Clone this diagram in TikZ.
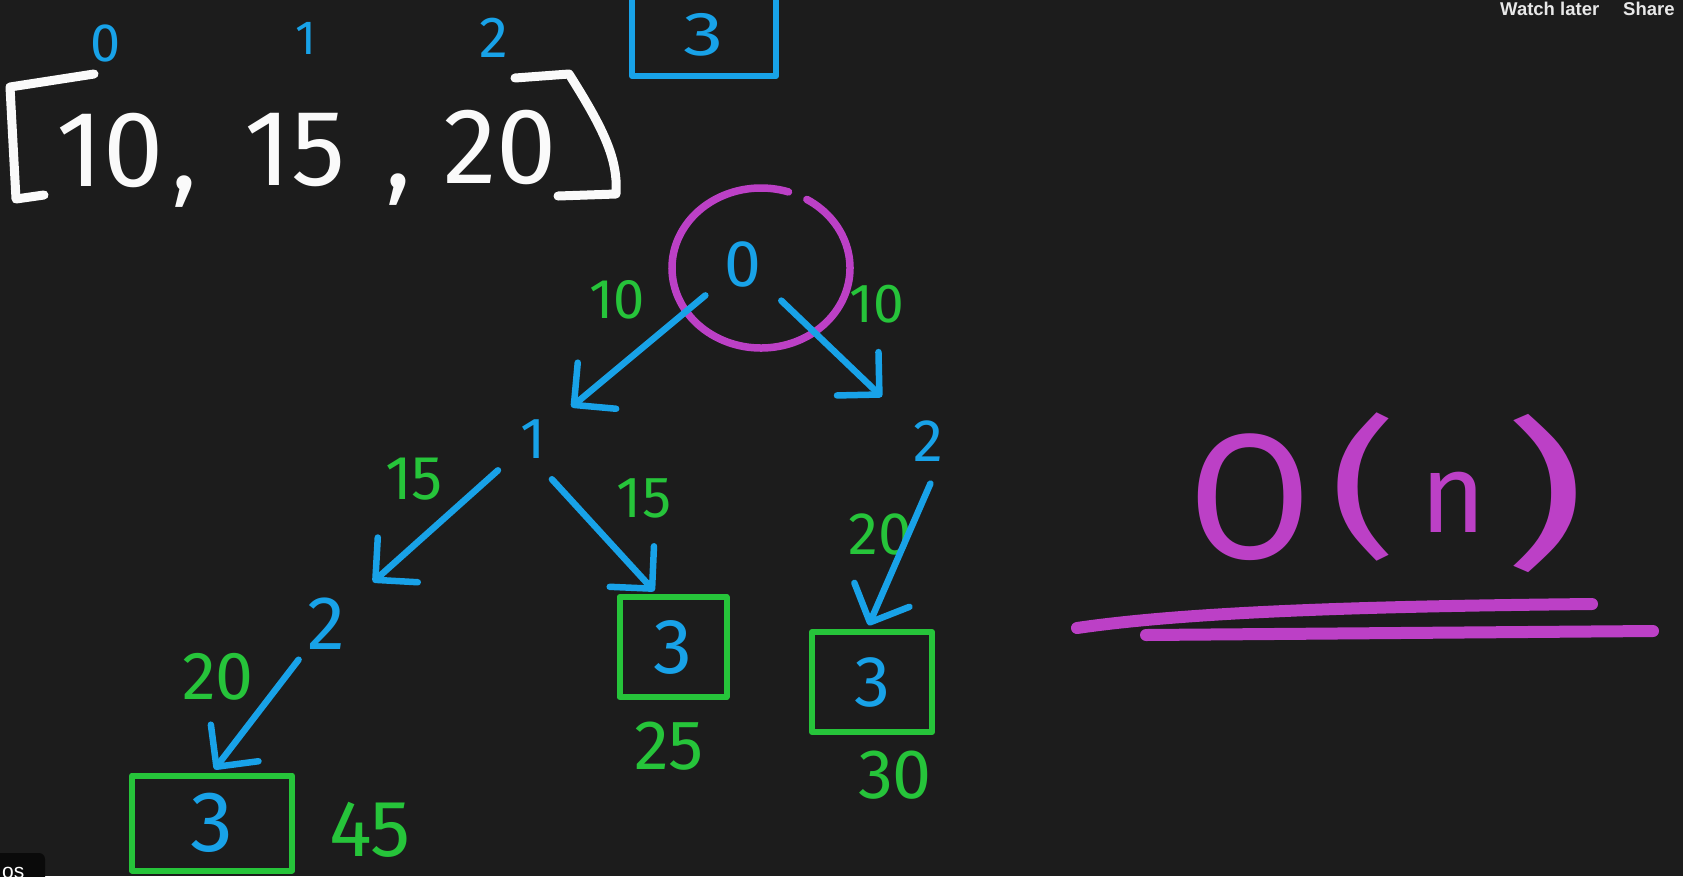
\documentclass[tikz,border=0pt]{standalone}
\usepackage{fontspec}
\setmainfont{Fira Sans}
\newfontfamily\uifont{Liberation Sans}
\usetikzlibrary{arrows.meta}
\definecolor{bgc}{RGB}{28,28,28}
\definecolor{uiblack}{RGB}{10,10,10}
\definecolor{uigray}{RGB}{232,232,232}
\definecolor{hblue}{RGB}{24,162,232}
\definecolor{hgreen}{RGB}{38,196,58}
\definecolor{hmag}{RGB}{188,64,198}
\definecolor{hwhite}{RGB}{250,250,250}
\newcommand{\fsz}[1]{\fontsize{#1}{#1}\selectfont}
\begin{document}
\begin{tikzpicture}[x=1pt,y=-1pt,
  txt/.style={inner sep=0pt, font=\fsz{#1}},
  bl/.style={txt=#1, text=hblue},
  gr/.style={txt=#1, text=hgreen},
  wh/.style={txt=#1, text=hwhite},
  mg/.style={txt=#1, text=hmag},
  hbox/.style={draw=hgreen, line width=6pt, line join=round, rectangle, inner sep=0pt, text=hblue},
  hstroke/.style={line width=#1, line cap=round, line join=round},
  arr/.style={draw=hblue, line width=6.5pt, line cap=round, -{Straight Barb[length=30pt,width=60pt,round]}},
]
\useasboundingbox (0,0) rectangle (1683,876);
\fill[bgc] (0,0) rectangle (1683,876);

% header / overlay texts
\node[anchor=base west, inner sep=0pt, font=\uifont\bfseries\fsz{18.5}, text=uigray] (wl) at (1500,15) {Watch later};
\node[anchor=base west, inner sep=0pt, font=\uifont\bfseries\fsz{18.5}, text=uigray] (sh) at (1623,15) {Share};
\fill[uiblack] (-10,853) [rounded corners=6pt] -- (45,853) -- (45,890) [sharp corners] -- (-10,890) -- cycle;
\node[anchor=north west, inner sep=0pt, font=\uifont\fsz{21}, text=white] (os) at (2,867) {os};

% array
\draw[hwhite, hstroke=9pt] (94,74) -- (10,87) -- (16,199) -- (44,195);
\draw[hwhite, hstroke=9pt] (515,78) -- (569,74) .. controls (598,120) and (614,150) .. (616,180) -- (616,194) -- (558,196);
\node[wh=108] (a10) at (110,150) {10};
\node[wh=108] (c1) at (184,192) {,};
\node[wh=108] (a15) at (295,150) {15};
\node[wh=108] (c2) at (398,190) {,};
\node[wh=108] (a20) at (500,147) {20};

% indices
\node[bl=54] (i0) at (106,43) {0};
\node[bl=48] (i1) at (306,38) {1};
\node[bl=58] (i2) at (494,38) {2};
\node[hbox, draw=hblue, font=\fsz{62}, minimum width=144pt, minimum height=82pt] (tb) at (704,35) {\scalebox{1.3}[1]{3}};

% tree
\draw[hmag, hstroke=7.5pt] (761,268) ++(-59:89 and 80) arc[start angle=-59, end angle=288, x radius=89, y radius=80];
\node[bl=66] (n0) at (743,264) {0};
\node[bl=58] (n1) at (533,439) {1};
\node[bl=60] (n2) at (928,441) {2};
\node[bl=76] (n2b) at (326,624) {2};

\node[hbox, font=\fsz{78}, minimum width=107pt, minimum height=100pt] (b25) at (673,647) {3};
\node[hbox, font=\fsz{72}, minimum width=120pt, minimum height=100pt] (b30) at (872,682) {3};
\node[hbox, font=\fsz{86}, minimum width=160pt, minimum height=95pt] (b45) at (212,823) {3};

\node[gr=56] (l10a) at (617,300) {10};
\node[gr=55] (l10b) at (877,304) {10};
\node[gr=62] (l15a) at (414,479) {15};
\node[gr=58] (l15b) at (644,498) {15};
\node[gr=60] (l20a) at (880,534) {20};
\node[gr=68] (l20b) at (218,677) {20};
\node[gr=70] (s25) at (669,746) {25};
\node[gr=70] (s30) at (895,775) {30};
\node[gr=80] (s45) at (370,830) {45};

\draw[arr, shorten <=49pt, shorten >=50pt] (n0.center) -- (n1.center);
\draw[arr, shorten <=53pt, shorten >=64pt] (n0.center) -- (n2.center);
\draw[arr, shorten <=47pt, shorten >=63pt] (n1.center) -- (n2b.center);
\draw[arr, shorten <=28pt, shorten >=4pt] (n1.south) -- ([xshift=-16pt]b25.north);
\draw[arr, shorten <=24pt, shorten >=4pt] ([xshift=12pt]n2.south) -- ([xshift=-5pt]b30.north);
\draw[arr, shorten <=45pt, shorten >=4pt] (n2b.center) -- (b45.north);

% complexity
\node[mg=178] (bigO) at (1250,497) {O};
\node[mg=150] (lp) at (1364,487) {\scalebox{1.4}[1]{(}};
\node[mg=112] (nn) at (1453,502) {n};
\node[mg=160] (rp) at (1545,493) {\scalebox{1.6}[1]{)}};
\draw[hmag, hstroke=12pt] (1077,628) .. controls (1200,610) and (1400,606) .. (1592,604);
\draw[hmag, hstroke=12pt] (1146,635) -- (1653,631);
\end{tikzpicture}
\end{document}
